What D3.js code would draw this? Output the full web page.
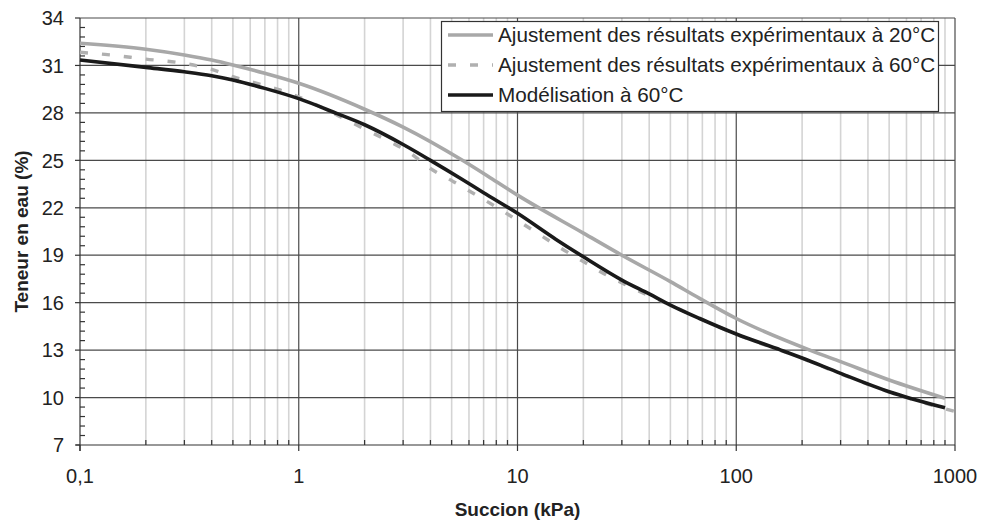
<!DOCTYPE html>
<html><head><meta charset="utf-8">
<script src="https://cdn.jsdelivr.net/npm/d3@7"></script>
<style>
body{margin:0;background:#fff;}
svg{display:block;font-family:"Liberation Sans",Arial,sans-serif;}
</style></head>
<body>
<svg id="chart" width="981" height="522"></svg>
<script>
// ---- data ----
const suction20 = [0.1,0.2,0.3,0.4,0.5,0.7,1,2,3,5.6,7.5,10,20,30,50,68,100,217,300,500,900];
const water20   = [32.4,32.02,31.66,31.34,31.03,30.5,29.87,28.23,27.1,25.0,23.9,22.8,20.4,19.0,17.33,16.27,15.0,13.0,12.27,11.11,9.95];

const suctionExp60 = [0.1,0.13,0.2,0.3,0.4,0.5,0.62,0.82,1,1.66,2.04,2.61,3.16,3.98,5.1,6.3,8,10,12.8,15.8,20,25.5,31,50,100,200,300,500,1000];
const waterExp60   = [31.83,31.7,31.4,31.13,30.75,30.29,29.93,29.45,29.0,27.55,26.92,26.18,25.55,24.5,23.65,22.9,22.05,21.2,20.25,19.44,18.6,17.75,17.15,15.85,14.0,12.48,11.5,10.35,9.12];

const suctionModel = [0.1,0.2,0.3,0.4,0.5,0.7,1,1.5,2,3,4,5.5,7,10,15,20,30,40,50,68,100,160,200,300,500,900];
const waterModel   = [31.34,30.88,30.6,30.35,30.08,29.55,28.9,27.95,27.25,26.0,25.0,23.85,22.95,21.65,20.0,18.9,17.43,16.55,15.85,15.0,14.02,13.0,12.5,11.53,10.37,9.35];

const yTicks = [7,10,13,16,19,22,25,28,31,34];
const xTicks = [0.1,1,10,100,1000];
const xTickLabels = ["0,1","1","10","100","1000"];
const seriesNames = ["Ajustement des résultats expérimentaux à 20°C","Ajustement des résultats expérimentaux à 60°C","Modélisation à 60°C"];
const xTitle = "Succion (kPa)";
const yTitle = "Teneur en eau (%)";

// ---- layout ----
const L = 80, R = 955, T = 18, B = 445;
const svg = d3.select("#chart");
const x = d3.scaleLog().domain([0.1,1000]).range([L,R]);
const y = d3.scaleLinear().domain([7,34]).range([B,T]);

// minor x positions
const minorX = [];
for (let d = 0.1; d < 1000; d *= 10) for (let k = 2; k <= 9; k++) minorX.push(+(d*k).toPrecision(3));
// minor y
const minorY = d3.range(7, 34.001, 0.6).map(v => +v.toFixed(2));

const grid = svg.append("g");
grid.selectAll("line.mx").data(minorX).join("line")
  .attr("x1", d => x(d)).attr("x2", d => x(d)).attr("y1", T).attr("y2", B)
  .attr("stroke", "#d4d4d4").attr("stroke-width", 1.6);
grid.selectAll("line.hy").data(yTicks.slice(1)).join("line")
  .attr("x1", L).attr("x2", R).attr("y1", d => y(d)).attr("y2", d => y(d))
  .attr("stroke", "#4a4a4a").attr("stroke-width", 1.2);
grid.selectAll("line.vx").data(xTicks.slice(1)).join("line")
  .attr("x1", d => x(d)).attr("x2", d => x(d)).attr("y1", T).attr("y2", B)
  .attr("stroke", "#4a4a4a").attr("stroke-width", 1.2);

// axes
const ax = svg.append("g").attr("stroke", "#333").attr("stroke-width", 1.2);
ax.append("line").attr("x1", L).attr("x2", L).attr("y1", T).attr("y2", B + 6);
ax.append("line").attr("x1", L - 4).attr("x2", R).attr("y1", B).attr("y2", B);
ax.selectAll("line.yt").data(yTicks).join("line")
  .attr("x1", L - 5).attr("x2", L).attr("y1", d => y(d)).attr("y2", d => y(d));
ax.selectAll("line.ym").data(minorY.filter(v => !yTicks.some(t => Math.abs(t - v) < 1e-6))).join("line")
  .attr("x1", L).attr("x2", L + 5).attr("y1", d => y(d)).attr("y2", d => y(d));
ax.selectAll("line.xt").data(xTicks).join("line")
  .attr("x1", d => x(d)).attr("x2", d => x(d)).attr("y1", B).attr("y2", B + 6);
ax.selectAll("line.xm").data(minorX).join("line")
  .attr("x1", d => x(d)).attr("x2", d => x(d)).attr("y1", B - 5).attr("y2", B);

// tick labels
svg.append("g").selectAll("text").data(yTicks).join("text")
  .attr("x", 64).attr("y", d => y(d)).attr("dy", "0.36em")
  .attr("text-anchor", "end").attr("font-size", 20).attr("fill", "#222").text(d => d);
svg.append("g").selectAll("text").data(xTicks).join("text")
  .attr("x", d => x(d)).attr("y", 483)
  .attr("text-anchor", "middle").attr("font-size", 20).attr("fill", "#222")
  .text((d, i) => xTickLabels[i]);

// titles
svg.append("text").attr("x", (L + R) / 2).attr("y", 516).attr("text-anchor", "middle")
  .attr("font-size", 19).attr("font-weight", "bold").attr("fill", "#222").text(xTitle);
svg.append("text").attr("transform", `translate(28,${(T + B) / 2}) rotate(-90)`)
  .attr("text-anchor", "middle").attr("font-size", 19).attr("font-weight", "bold")
  .attr("fill", "#222").text(yTitle);

// lines
const line = d3.line().x(d => x(d[0])).y(d => y(d[1])).curve(d3.curveMonotoneX);
const styles = [
  {stroke: "#a8a8a8", width: 3.6, dash: null},
  {stroke: "#b0b0b0", width: 3.4, dash: "8,14"},
  {stroke: "#1a1a1a", width: 3.6, dash: null}
];
const series = [
  d3.zip(suction20, water20),
  d3.zip(suctionExp60, waterExp60),
  d3.zip(suctionModel, waterModel)
];
series.forEach((s, i) => {
  svg.append("path").datum(s).attr("d", line).attr("fill", "none")
    .attr("stroke", styles[i].stroke).attr("stroke-width", styles[i].width)
    .attr("stroke-dasharray", styles[i].dash);
});

// legend
const lg = svg.append("g");
lg.append("rect").attr("x", 441.5).attr("y", 21.5).attr("width", 497).attr("height", 90)
  .attr("fill", "#fff").attr("stroke", "#333").attr("stroke-width", 1.2);
seriesNames.forEach((name, i) => {
  const cy = 35 + i * 30;
  lg.append("line").attr("x1", 448).attr("x2", 493).attr("y1", cy).attr("y2", cy)
    .attr("stroke", styles[i].stroke).attr("stroke-width", styles[i].width)
    .attr("stroke-dasharray", styles[i].dash);
  lg.append("text").attr("x", 498).attr("y", cy + 7).attr("font-size", 20.7)
    .attr("fill", "#222").text(name);
});
</script>
</body></html>
